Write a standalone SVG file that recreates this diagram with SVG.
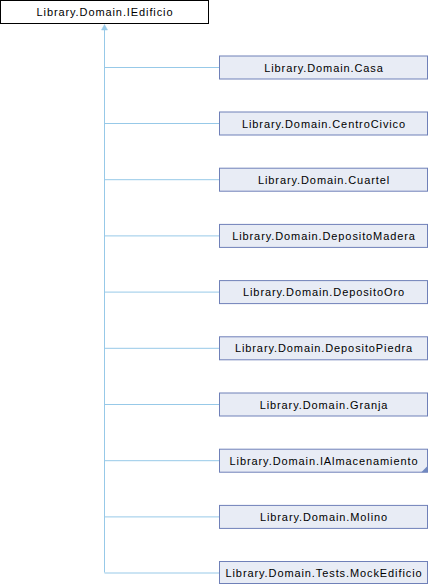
<svg xmlns="http://www.w3.org/2000/svg" width="428" height="584" viewBox="0 0 428 584">
<style>
.n rect{fill:#E8ECF5;stroke:#6F80B8;stroke-width:1}
.t{font-family:"Liberation Sans",Arial,sans-serif;font-size:11px;letter-spacing:0.9px;fill:#000;text-anchor:middle}
.c{stroke:#97C9E8;stroke-width:1;fill:none}
</style>
<rect width="428" height="584" fill="#fff"/>
<g id="connectors">
<path class="c" d="M104.5,28V572.5"/>
<path class="c" d="M104.5,67.5H219M104.5,123.5H219M104.5,179.7H219M104.5,235.9H219M104.5,292.1H219M104.5,348.3H219M104.5,404.5H219M104.5,460.7H219M104.5,516.9H219M104.5,573H219"/>
<path d="M104.5,24.5L107.5,30L101.5,30Z" fill="#97C9E8" stroke="#97C9E8" stroke-width="0.5"/>
</g>
<g id="IEdificio"><rect x="0.5" y="0.5" width="208" height="23" fill="#fff" stroke="#000"/><text class="t" x="105" y="16">Library.Domain.IEdificio</text></g>
<g id="Casa" class="n"><rect x="219.5" y="56" width="208" height="23"/><text class="t" x="324" y="71.5">Library.Domain.Casa</text></g>
<g id="CentroCivico" class="n"><rect x="219.5" y="112" width="208" height="23"/><text class="t" x="324" y="127.5">Library.Domain.CentroCivico</text></g>
<g id="Cuartel" class="n"><rect x="219.5" y="168.2" width="208" height="23"/><text class="t" x="324" y="183.7">Library.Domain.Cuartel</text></g>
<g id="DepositoMadera" class="n"><rect x="219.5" y="224.4" width="208" height="23"/><text class="t" x="324" y="239.9">Library.Domain.DepositoMadera</text></g>
<g id="DepositoOro" class="n"><rect x="219.5" y="280.6" width="208" height="23"/><text class="t" x="324" y="296.1">Library.Domain.DepositoOro</text></g>
<g id="DepositoPiedra" class="n"><rect x="219.5" y="336.8" width="208" height="23"/><text class="t" x="324" y="352.3">Library.Domain.DepositoPiedra</text></g>
<g id="Granja" class="n"><rect x="219.5" y="393" width="208" height="23"/><text class="t" x="324" y="408.5">Library.Domain.Granja</text></g>
<g id="IAlmacenamiento" class="n"><rect x="219.5" y="449.2" width="208" height="23"/><text class="t" x="324" y="464.7">Library.Domain.IAlmacenamiento</text><path d="M427.5,466L427.5,472.2L421.3,472.2Z" fill="#7088C0"/></g>
<g id="Molino" class="n"><rect x="219.5" y="505.4" width="208" height="23"/><text class="t" x="324" y="520.9">Library.Domain.Molino</text></g>
<g id="MockEdificio" class="n"><rect x="219.5" y="561.5" width="208" height="22"/><text class="t" x="324" y="576.5">Library.Domain.Tests.MockEdificio</text></g>
</svg>
